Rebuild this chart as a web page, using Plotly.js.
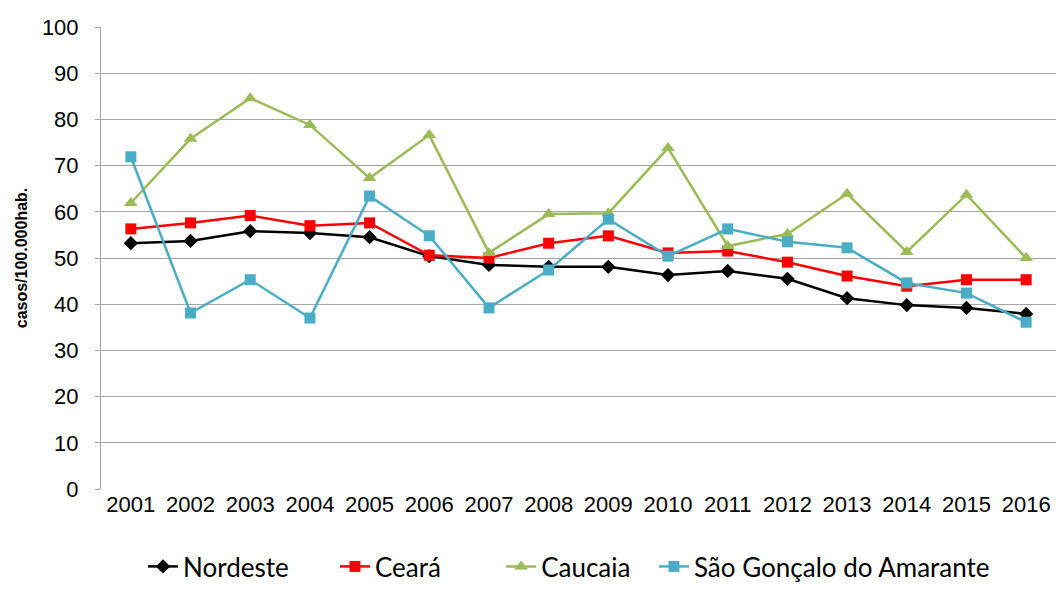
<!DOCTYPE html>
<html>
<head>
<meta charset="utf-8">
<script src="https://cdn.plot.ly/plotly-3.0.1.min.js"></script>
<style>
  html, body { margin: 0; padding: 0; background: #fff; }
  #chart { width: 1056px; height: 590px; }
</style>
</head>
<body>
<div id="chart"></div>
<script>
// Taxa de casos por 100.000 habitantes, 2001–2016
const years = ['2001','2002','2003','2004','2005','2006','2007','2008','2009','2010','2011','2012','2013','2014','2015','2016'];
const nordeste = [53.2, 53.7, 55.8, 55.4, 54.5, 50.4, 48.5, 48.1, 48.1, 46.3, 47.2, 45.5, 41.3, 39.8, 39.2, 37.9];
const ceara    = [56.3, 57.6, 59.2, 57.0, 57.6, 50.6, 50.0, 53.2, 54.8, 51.1, 51.5, 49.1, 46.1, 43.9, 45.3, 45.3];
const caucaia  = [61.9, 75.8, 84.6, 78.8, 67.3, 76.6, 51.1, 59.5, 59.7, 73.8, 52.6, 55.2, 63.9, 51.3, 63.7, 50.0];
const saoGoncalo = [71.9, 38.1, 45.3, 37.0, 63.4, 54.8, 39.2, 47.4, 58.4, 50.4, 56.3, 53.5, 52.2, 44.6, 42.4, 36.1];

const sans = '"Liberation Sans", Arial, sans-serif';
const legendFont = { family: 'Lato, "Open Sans", sans-serif', size: 26, color: '#000' };

function serie(name, y, color, symbol, size, legendId) {
  return {
    type: 'scatter', mode: 'lines+markers', name: name,
    legend: legendId,
    x: years, y: y,
    line: { color: color, width: 2.5 },
    marker: { color: color, symbol: symbol, size: size }
  };
}

const data = [
  serie('Nordeste', nordeste, '#000000', 'diamond', 11, 'legend'),
  serie('Ceará', ceara, '#FF0000', 'square', 11, 'legend2'),
  serie('Caucaia', caucaia, '#9BBB59', 'triangle-up', 12, 'legend3'),
  serie('São Gonçalo do Amarante', saoGoncalo, '#4BACC6', 'square', 11, 'legend4')
];

// one legend box per series, laid out in a row under the x axis
function legendAt(x) {
  return {
    orientation: 'h', x: x, xanchor: 'left',
    yref: 'container', y: 0, yanchor: 'bottom',
    font: legendFont, bgcolor: 'rgba(0,0,0,0)', borderwidth: 0
  };
}

const layout = {
  width: 1056, height: 590,
  margin: { l: 101, r: 0, t: 27, b: 101 },
  paper_bgcolor: '#fff', plot_bgcolor: '#fff',
  showlegend: true,
  legend: legendAt(0.044),
  legend2: legendAt(0.245),
  legend3: legendAt(0.419),
  legend4: legendAt(0.579),
  xaxis: {
    type: 'category', range: [-0.5, 15.5],
    showgrid: false, zeroline: false,
    showline: false, ticks: '',
    tickfont: { family: sans, size: 22, color: '#000' },
    fixedrange: true
  },
  yaxis: {
    range: [0, 100], dtick: 10, tick0: 0,
    showgrid: true, gridcolor: '#a6a6a6', gridwidth: 1,
    zeroline: false,
    showline: true, linecolor: '#a6a6a6', linewidth: 1,
    ticks: 'outside', ticklen: 5, tickcolor: '#a6a6a6',
    ticklabelstandoff: 12,
    tickfont: { family: sans, size: 22, color: '#000' },
    title: {
      text: 'casos/100.000hab.',
      font: { family: sans, size: 16, color: '#000', weight: 'bold' },
      standoff: 10
    },
    fixedrange: true
  }
};

Plotly.newPlot('chart', data, layout, { displayModeBar: false, staticPlot: true });
</script>
</body>
</html>
